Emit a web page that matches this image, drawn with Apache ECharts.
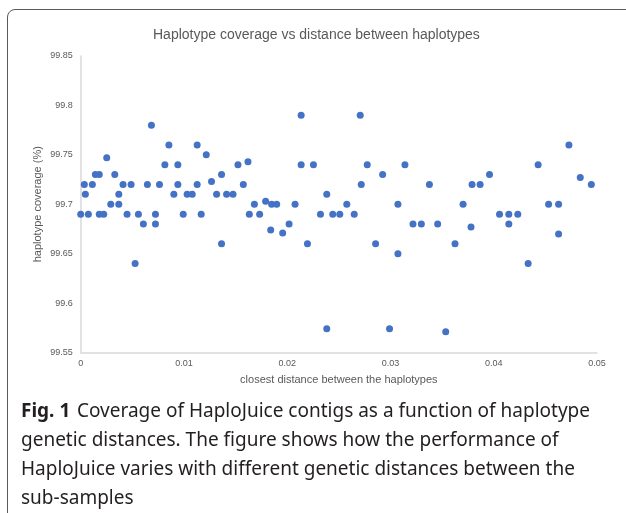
<!DOCTYPE html>
<html>
<head>
<meta charset="utf-8">
<script src="https://cdn.jsdelivr.net/npm/echarts@6/dist/echarts.min.js"></script>
<style>
html,body{margin:0;padding:0;background:#fff;overflow:hidden;}
#wrap{position:relative;width:626px;height:513px;overflow:hidden;}
#frame{position:absolute;left:6.75px;top:9.25px;width:800px;height:800px;border:1.5px solid #5a5a5a;border-radius:8px;box-sizing:border-box;pointer-events:none;}
#c{position:absolute;left:0;top:0;width:626px;height:513px;}
</style>
</head>
<body>
<div id="wrap"><div id="c"></div><div id="frame"></div></div>
<script>
var distances = [0.0000,0.00035,0.00045,0.00074,0.00113,0.00142,0.0018,0.0018,0.00223,0.00252,
0.00291,0.0033,0.00369,0.00369,0.0041,0.00449,0.00488,0.00527,0.00559,0.00607,
0.00646,0.00685,0.00724,0.00724,0.00763,0.00815,0.00854,0.00902,0.00941,0.00941,
0.00993,0.01031,0.0108,0.01128,0.01128,0.01167,0.01216,0.01267,0.01316,0.01364,
0.01364,0.01413,0.01475,0.01523,0.01575,0.0162,0.01633,0.01682,0.01733,0.01791,
0.0184,0.01849,0.01898,0.01956,0.02018,0.02076,0.02135,0.02135,0.02196,0.02254,
0.02322,0.02383,0.02383,0.02441,0.02509,0.02577,0.02649,0.02707,0.02717,0.02775,
0.02856,0.02924,0.02991,0.03072,0.03072,0.0314,0.03218,0.03299,0.03377,0.03457,
0.03535,0.03625,0.03703,0.0378,0.0379,0.03868,0.03959,0.04056,0.04146,0.04146,
0.04233,0.04333,0.0443,0.04531,0.04628,0.04628,0.04728,0.04838,0.04945];
var coverage = [99.69,99.72,99.71,99.69,99.72,99.73,99.73,99.69,99.69,99.747,
99.70,99.73,99.71,99.70,99.72,99.69,99.72,99.64,99.69,99.68,
99.72,99.78,99.69,99.68,99.72,99.74,99.76,99.71,99.74,99.72,
99.69,99.71,99.71,99.76,99.72,99.69,99.75,99.723,99.71,99.73,
99.66,99.71,99.71,99.74,99.72,99.743,99.69,99.70,99.69,99.703,
99.674,99.70,99.70,99.671,99.68,99.70,99.79,99.74,99.66,99.74,
99.69,99.71,99.574,99.69,99.69,99.70,99.69,99.79,99.72,99.74,
99.66,99.73,99.574,99.70,99.65,99.74,99.68,99.68,99.72,99.68,
99.571,99.66,99.70,99.677,99.72,99.72,99.73,99.69,99.69,99.68,
99.69,99.64,99.74,99.70,99.70,99.67,99.76,99.727,99.72];
var xTicks = [0, 0.01, 0.02, 0.03, 0.04, 0.05];
var yTicks = [99.55, 99.6, 99.65, 99.7, 99.75, 99.8, 99.85];
var titleText = 'Haplotype coverage vs distance between haplotypes';
var xName = 'closest distance between the haplotypes';
var yName = 'haplotype coverage (%)';
var captionBold = 'Fig. 1';
var captionLines = [
  'Coverage of HaploJuice contigs as a function of haplotype',
  'genetic distances. The figure shows how the performance of',
  'HaploJuice varies with different genetic distances between the',
  'sub-samples'
];

var pts = distances.map(function(d, i){ return [d, coverage[i]]; });
var chart = echarts.init(document.getElementById('c'), null, {renderer:'canvas'});
var capFont = '"Noto Sans", "Open Sans", sans-serif';
var capSize = 19;
var capY0 = 402, capLH = 29;
var capElems = [];
capElems.push({
  type:'text', left:21, top:capY0,
  style:{text:captionBold, font:'bold '+capSize+'px '+capFont, fill:'#231f20'}
});
capElems.push({
  type:'text', left:21+56, top:capY0,
  style:{text:captionLines[0], font:capSize+'px '+capFont, fill:'#231f20'}
});
for (var i=1;i<captionLines.length;i++){
  capElems.push({
    type:'text', left:21, top:capY0+capLH*i,
    style:{text:captionLines[i], font:capSize+'px '+capFont, fill:'#231f20'}
  });
}

chart.setOption({
  animation:false,
  title:{
    text:titleText, left:148, top:23,
    textStyle:{fontFamily:'Liberation Sans, Arial, sans-serif', fontSize:14, fontWeight:'normal', color:'#595959'}
  },
  grid:{left:80.7, right:29, top:56, bottom:160.5, containLabel:false},
  xAxis:{
    type:'value', min:0, max:0.05, interval:0.01,
    name:xName, nameLocation:'middle', nameGap:22, nameMoveOverlap:false,
    nameTextStyle:{fontFamily:'Liberation Sans, Arial, sans-serif', fontSize:11, color:'#595959'},
    axisLine:{show:true, lineStyle:{color:'#d9d9d9', width:1.5}},
    axisTick:{show:false},
    splitLine:{show:false},
    axisLabel:{fontFamily:'Liberation Sans, Arial, sans-serif', fontSize:9, color:'#595959', margin:7,
      formatter:function(v){ return String(+v.toFixed(3)); }}
  },
  yAxis:{
    type:'value', min:99.55, max:99.85, interval:0.05,
    name:yName, nameLocation:'middle', nameGap:37, nameMoveOverlap:false,
    nameTextStyle:{fontFamily:'Liberation Sans, Arial, sans-serif', fontSize:11, color:'#595959'},
    axisLine:{show:true, lineStyle:{color:'#d9d9d9', width:1.5}},
    axisTick:{show:false},
    splitLine:{show:false},
    axisLabel:{fontFamily:'Liberation Sans, Arial, sans-serif', fontSize:9, color:'#595959', margin:8,
      formatter:function(v){ return String(+v.toFixed(2)); }}
  },
  series:[{
    type:'scatter', data:pts, symbolSize:7,
    itemStyle:{color:'#4472c4', opacity:1}
  }],
  graphic:capElems
});
</script>
</body>
</html>
